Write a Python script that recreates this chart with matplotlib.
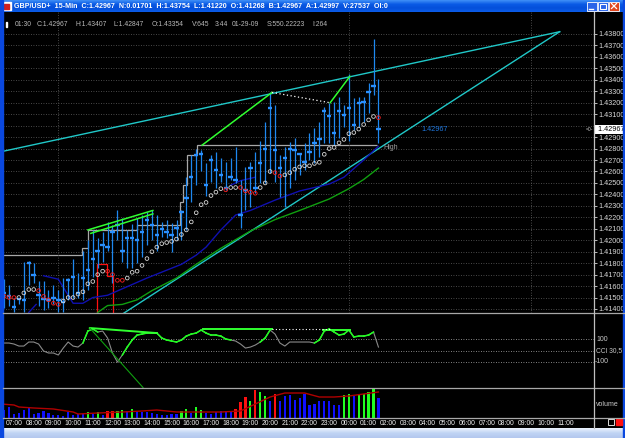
import numpy as np
import matplotlib.pyplot as plt
from matplotlib.lines import Line2D
from matplotlib.patches import Rectangle
from matplotlib.colors import LinearSegmentedColormap

plt.rcParams['font.family'] = ['Liberation Sans', 'DejaVu Sans']

# ---- GBP/USD 15-min bars, 06:30 .. 01:30 (77 bars) ----
high = [1.4166, 1.4161, 1.4150, 1.4150, 1.4181, 1.4182, 1.4180, 1.4164, 1.4164, 1.4157,
        1.4161, 1.4157, 1.4167, 1.4167, 1.4184, 1.4171, 1.4191, 1.4200, 1.4209, 1.4202,
        1.4207, 1.4216, 1.4213, 1.4226, 1.4219, 1.4209, 1.4214, 1.4219, 1.4222, 1.4225,
        1.4226, 1.4222, 1.4216, 1.4218, 1.4215, 1.4218, 1.4226, 1.4255, 1.4274, 1.4280,
        1.4279, 1.4267, 1.4274, 1.4277, 1.4272, 1.4268, 1.4272, 1.4281, 1.4253, 1.4264,
        1.4268, 1.4277, 1.4287, 1.4303, 1.4329, 1.4318, 1.4274, 1.4281, 1.4286, 1.4289,
        1.4276, 1.4285, 1.4294, 1.4298, 1.4303, 1.4316, 1.4320, 1.4321, 1.4325, 1.4318,
        1.4345, 1.4324, 1.4325, 1.4325, 1.4337, 1.43754, 1.43407]
low = [1.4141, 1.4143, 1.4137, 1.4144, 1.4137, 1.4161, 1.4163, 1.4143, 1.4139, 1.4141,
       1.4144, 1.4137, 1.4137, 1.4148, 1.4150, 1.4150, 1.4148, 1.4157, 1.4168, 1.4176,
       1.4181, 1.4191, 1.4163, 1.4200, 1.4181, 1.4176, 1.4176, 1.4180, 1.4185, 1.4196,
       1.4200, 1.4191, 1.4203, 1.4202, 1.4190, 1.4200, 1.4200, 1.4209, 1.4233, 1.4248,
       1.4260, 1.4239, 1.4251, 1.4246, 1.4251, 1.4244, 1.4253, 1.4250, 1.4211, 1.4226,
       1.4229, 1.4241, 1.4250, 1.4250, 1.4259, 1.4251, 1.4238, 1.4229, 1.4246, 1.4253,
       1.4257, 1.4261, 1.4270, 1.4267, 1.4273, 1.4285, 1.4285, 1.4283, 1.4289, 1.4299,
       1.4287, 1.4296, 1.4299, 1.4303, 1.4311, 1.4327, 1.42847]
close = [1.4154, 1.4151, 1.4142, 1.4149, 1.4148, 1.4180, 1.4170, 1.4152, 1.4149, 1.4148,
         1.4150, 1.4148, 1.4146, 1.4165, 1.4168, 1.4154, 1.4167, 1.4174, 1.4184, 1.4191,
         1.4196, 1.4194, 1.4207, 1.4213, 1.4191, 1.4202, 1.4202, 1.4200, 1.4207, 1.4218,
         1.4213, 1.4205, 1.4210, 1.4207, 1.4205, 1.4211, 1.4225, 1.4237, 1.4255, 1.4274,
         1.4275, 1.4248, 1.4270, 1.4261, 1.4257, 1.4246, 1.4255, 1.4253, 1.4222, 1.4244,
         1.4263, 1.4246, 1.4267, 1.4280, 1.4315, 1.4279, 1.4263, 1.4272, 1.4280, 1.4279,
         1.4275, 1.4268, 1.4277, 1.4285, 1.4288, 1.4313, 1.4308, 1.4294, 1.4313, 1.4309,
         1.4315, 1.4301, 1.4320, 1.4321, 1.4329, 1.4335, 1.42967]

# trailing stop dots (W = white, R = red)
stop = [1.4151, 1.4150, 1.4150, 1.4150, 1.4154, 1.4157, 1.4157, 1.4156, 1.4151, 1.4148,
        1.4145, 1.4144, 1.4147, 1.4150, 1.4150, 1.4153, 1.4155, 1.4162, 1.4164, 1.4170,
        1.4173, 1.4173, 1.4170, 1.4165, 1.4165, 1.4167, 1.4172, 1.4173, 1.4178, 1.4184,
        1.4190, 1.4194, 1.4197, 1.4198, 1.4199, 1.4201, 1.4205, 1.4209, 1.4216, 1.4224,
        1.4231, 1.4233, 1.4239, 1.4242, 1.4245, 1.4244, 1.4246, 1.4246, 1.4246, 1.4243,
        1.4242, 1.4241, 1.4246, 1.4250, 1.4260, 1.4259, 1.4256, 1.4257, 1.4259, 1.4262,
        1.4264, 1.4265, 1.4265, 1.4267, 1.4268, 1.4275, 1.4280, 1.4281, 1.4285, 1.4288,
        1.4293, 1.4294, 1.4297, 1.4301, 1.4305, 1.4308, 1.4307]
stop_side = ("RRR" "WWWW" "RRRRR" "WWWWWWWWW" "RRRR" "WWWWWWWWWWWWWWWWWWWW" "R" "WW"
             "RRRR" "WWW" "RR" "WWWWWWWWWWWWWWWWWWW" "R")

# moving averages (bar index, price)
ma_blue_i = [5, 6.5, 7.5, 8, 11, 14, 16, 18, 21, 29, 36, 39, 41, 44, 47, 50, 55, 60, 66, 69, 73, 76]
ma_blue_p = [1.4137, 1.4144, np.nan, 1.4169, 1.4166, 1.4145, 1.4145, 1.4150, 1.4152, 1.4167,
             1.4179, 1.4187, 1.4194, 1.4209, 1.4222, 1.4226, 1.4235, 1.4243, 1.4249, 1.4255,
             1.4270, 1.4282]
ma_blue2_i = [46, 48, 51]
ma_blue2_p = [1.4248, 1.4252, 1.4255]
ma_green_i = [19, 21, 24, 27, 30, 35, 39, 44, 50, 55, 60, 66, 70, 73, 76]
ma_green_p = [1.4137, 1.4143, 1.4144, 1.4148, 1.4156, 1.4167, 1.4179, 1.4193, 1.4208, 1.4218,
              1.4226, 1.4236, 1.4245, 1.4253, 1.4263]

# highest-high step line and red step
hh_edges = [-1, 15.8, 17.0, 27.0, 35.7, 36.3, 37.1, 39.2, 75.7]
hh_levels = [1.4187, 1.4193, 1.4209, 1.4213, 1.4233, 1.4248, 1.4274, 1.4283]
red_edges = [18.9, 20.9, 22.1]
red_levels = [1.4179, 1.4169]

# drawn trend lines
cyan_up = ([-2, 112.8], [1.4276, 1.4382])
cyan_lo = ([22, 112.8], [1.4130, 1.4382])
green_tl = [([17.0, 30.2], [1.4209, 1.4226]), ([17.6, 30.2], [1.4206, 1.4223]),
            ([40.2, 54.4], [1.4283, 1.4329]), ([66.2, 70.2], [1.4320, 1.4343])]
dotted_tl = ([54.4, 66.2], [1.4329, 1.4320])

# CCI
cci = [67, 67, 58, 40, 40, 76, 76, 58, -4, -22,
       -22, -40, 22, 76, 40, 31, 67, 174, 192, 165,
       174, 112, -22, -103, -40, 31, 94, 138, 147, 156,
       156, 156, 112, 94, 85, 76, 94, 129, 147, 156,
       183, 156, 138, 138, 129, 103, 94, 85, 58, 22,
       31, 49, 76, 112, 183, 147, 67, 40, 76, 76,
       76, 76, 76, 67, 94, 174, 192, 165, 138, 147,
       183, 121, 129, 129, 138, 165, 31]
cci_hi = "0" * 16 + "111" + "0" * 5 + "1" * 22 + "0" * 6 + "11" + "0" * 9 + "1" * 12 + "0"
cci_green_tl = [([17.4, 31.0], [201, 156]), ([40.4, 54.4], [192, 192]), ([64.7, 70.2], [183, 183])]
cci_dark_tl = ([17.4, 28.2], [201, -330])
cci_dot_tl = ([54.4, 66.2], [192, 192])

# volume
vol = [267, 341, 128, 160, 267, 341, 128, 160, 213, 160,
       107, 85, 75, 181, 107, 128, 128, 203, 128, 181,
       107, 235, 235, 235, 267, 213, 288, 213, 192, 181,
       160, 128, 107, 107, 128, 128, 235, 288, 160, 352,
       245, 160, 128, 192, 213, 213, 235, 288, 523, 672,
       533, 907, 843, 715, 555, 768, 555, 693, 747, 587,
       640, 768, 427, 448, 555, 555, 533, 427, 427, 747,
       768, 693, 747, 768, 821, 960, 645]
vol_col = ("b" * 17 + "g" + "b" + "g" + "b" + "rr" + "gg" + "b" + "g" + "b" * 9 + "gg" + "b"
           + "gg" + "b" * 6 + "rrr" + "g" + "r" + "gg" + "b" + "r" + "b" * 13 + "gg" + "b"
           + "gggg" + "b")
vma_i = [0, 2, 3, 6, 10, 14, 15, 19, 24, 28, 31, 35, 44, 48, 51, 54, 57, 61, 64, 67, 70, 73, 76]
vma = [440, 416, 352, 320, 288, 192, 128, 160, 192, 224, 256, 192, 192, 224, 448, 672, 800,
       800, 672, 672, 704, 768, 832]

hours = ['07:00', '08:00', '09:00', '10:00', '11:00', '12:00', '13:00', '14:00', '15:00',
         '16:00', '17:00', '18:00', '19:00', '20:00', '21:00', '22:00', '23:00', '00:00',
         '01:00', '02:00', '03:00', '04:00', '05:00', '06:00', '07:00', '08:00', '09:00',
         '10:00', '11:00']
vgrid_hours = [2.25, 17, 26.25]   # 09:15, 00:00, 09:15 after 07:00

W, H = 625, 438


def box(x0, y0, x1, y1):
    return [x0 / W, 1 - y1 / H, (x1 - x0) / W, (y1 - y0) / H]


def fline(x0, y0, x1, y1, c, lw=1.0):
    fig.add_artist(Line2D([x0 / W, x1 / W], [1 - y0 / H, 1 - y1 / H],
                          transform=fig.transFigure, color=c, lw=lw))


fig = plt.figure(figsize=(W / 100, H / 100), dpi=100, facecolor='black')

n = len(close)
idx = np.arange(n)
xlim = (-0.23, 119.77)
hour_pos = [2 + 4 * k for k in range(len(hours))]
dot = (0, (1, 2))

# ---------------- price panel ----------------
ax = fig.add_axes(box(3, 12, 594, 313))
ax.set_facecolor('black')
ax.set_xlim(*xlim)
ax.set_ylim(1.41365, 1.43992)
for s in ax.spines.values():
    s.set_visible(False)
ax.set_xticks([])
ax.yaxis.tick_right()
yt = np.arange(1.414, 1.43801, 0.001)
ax.set_yticks(yt)
# the 1.43000 label sits under the last-price box
ax.set_yticklabels(['' if abs(v - 1.430) < 1e-6 else '%.5f' % v for v in yt])
ax.tick_params(axis='y', colors='#d8d8d8', labelsize=5.2, length=2.5, width=0.6, pad=1)
ax.grid(axis='y', color='#606060', linestyle=dot, lw=0.6)
for h in vgrid_hours:
    ax.axvline(2 + 4 * h, color='#606060', linestyle=dot, lw=0.6)

ax.plot(*cyan_up, color='#20c8c8', lw=1.0)
ax.plot(*cyan_lo, color='#20c8c8', lw=1.0)
ax.plot(ma_green_i, ma_green_p, color='#10a010', lw=1.0)
ax.plot(ma_blue_i, ma_blue_p, color='#1010b0', lw=1.0)
ax.plot(ma_blue2_i, ma_blue2_p, color='#1010b0', lw=1.0)
ax.stairs(hh_levels, hh_edges, baseline=None, color='#a8a8a8', lw=0.9)
ax.stairs(red_levels, red_edges, baseline=1.41, color='#ff1010', lw=0.9)

ax.vlines(idx, low, high, color='#1e88f0', lw=0.9)
ax.hlines(close, idx - 0.45, idx + 0.45, color='#2a90ff', lw=1.7)

cols = ['#ff2020' if s == 'R' else '#d8d8d8' for s in stop_side]
ax.scatter(idx, stop, s=7, facecolors='none', edgecolors=cols, linewidths=0.6, zorder=4)

for xs, ys in green_tl:
    ax.plot(xs, ys, color='#30ff30', lw=1.1)
ax.plot(*dotted_tl, color='white', lw=0.9, linestyle=dot)

ax.text(77.0, 1.4281, 'High', color='#a0a0a0', fontsize=5, va='center')
ax.text(87.5, close[-1], '%.5f' % close[-1], color='#1e78e0', fontsize=5.2,
        va='center', ha='center')
ax.text(1.003, close[-1], ' %.5f ' % close[-1], transform=ax.get_yaxis_transform(),
        color='black', fontsize=5.2, va='center', ha='left',
        bbox=dict(facecolor='white', edgecolor='none', pad=0.6), clip_on=False, zorder=6)
ax.text(0.999, close[-1], '=0-', transform=ax.get_yaxis_transform(), color='#d0d0d0',
        fontsize=3.6, va='center', ha='right')

info = [(15, '01:30'), (37, 'C:1.42967'), (76, 'H:1.43407'), (114, 'L:1.42847'),
        (152, 'O:1.43354'), (192, 'V:645'), (215, '3:44'), (232, '01-29-09'),
        (267, 'S:550.22223'), (312, 'I:264')]
for xp, t in info:
    fig.text(xp / W, 1 - 24 / H, t, color='#b8b8b8', fontsize=4.9, va='center', ha='left')
fig.add_artist(Rectangle((6 / W, 1 - 27 / H), 1.5 / W, 5 / H, transform=fig.transFigure,
                         color='white'))

# ---------------- CCI panel ----------------
ax2 = fig.add_axes(box(3, 313, 594, 387.5))
ax2.set_facecolor('black')
ax2.set_xlim(*xlim)
ax2.set_ylim(-330, 335)
ax2.axis('off')
for lv in (100, 0, -100):
    ax2.axhline(lv, color='#b0b0b0', linestyle=dot, lw=0.6)
ax2.plot(idx, cci, color='#8a8a8a', lw=0.8)
for i, f in enumerate(cci_hi):
    if f == '1':
        ax2.plot([i, i + 1], [cci[i], cci[i + 1]], color='#20ff20', lw=1.1)
for xs, ys in cci_green_tl:
    ax2.plot(xs, ys, color='#30ff30', lw=1.4)
ax2.plot(*cci_dark_tl, color='#10a010', lw=0.8)
ax2.plot(*cci_dot_tl, color='white', lw=0.8, linestyle=dot)
tr2 = ax2.get_yaxis_transform()
ax2.text(1.004, 100, '100', transform=tr2, color='#c8c8c8', fontsize=5, va='center', clip_on=False)
ax2.text(1.004, 0, 'CCI 30,5', transform=tr2, color='#c8c8c8', fontsize=4.8, va='center', clip_on=False)
ax2.text(1.002, -100, '-100', transform=tr2, color='#c8c8c8', fontsize=5, va='center', clip_on=False)

# ---------------- volume panel ----------------
ax3 = fig.add_axes(box(3, 387.5, 594, 418))
ax3.set_facecolor('black')
ax3.set_xlim(*xlim)
ax3.set_ylim(0, 976)
for s in ax3.spines.values():
    s.set_visible(False)
vcolors = {'b': '#1010ff', 'r': '#ff1010', 'g': '#20ff20'}
ax3.bar(idx, vol, width=0.45, color=[vcolors[c] for c in vol_col])
ax3.plot(vma_i, vma, color='#b00000', lw=1.0)
ax3.set_yticks([])
ax3.set_xticks(hour_pos)
ax3.set_xticklabels(hours)
ax3.tick_params(axis='x', colors='#f0f0f0', labelsize=4.9, length=0, pad=1.5)
ax3.text(1.004, 0.45, 'volume', transform=ax3.transAxes, color='#c8c8c8', fontsize=5,
         va='center', clip_on=False)

# ---------------- separators and frame ----------------
for yy in (313, 387.5, 418):
    fline(3, yy, 625, yy, '#a8a8a8', 0.9)
fline(594, 12, 594, 428, '#c0c0c0', 0.9)
fig.add_artist(Rectangle((0, 0), 2.5 / W, 1, transform=fig.transFigure, color='#0a48e0'))
fig.add_artist(Rectangle((1 - 2 / W, 0), 2 / W, 1, transform=fig.transFigure, color='#0a48e0'))
fig.add_artist(Rectangle((608 / W, 1 - 425 / H), 6 / W, 6 / H, transform=fig.transFigure,
                         fill=False, ec='white', lw=0.6))
fig.add_artist(Rectangle((616 / W, 1 - 425 / H), 6 / W, 6 / H, transform=fig.transFigure,
                         color='#ff1010'))

# title bar
tb = fig.add_axes(box(0, 0, 625, 12))
tb.axis('off')
cm_t = LinearSegmentedColormap.from_list('t', ['#3a8af5', '#0a5ae6', '#0550da', '#0a5ae6'])
tb.imshow(np.linspace(0, 1, 12).reshape(-1, 1), aspect='auto', cmap=cm_t,
          extent=[0, 625, 12, 0])
tb.set_xlim(0, 625)
tb.set_ylim(12, 0)
tb.add_patch(Rectangle((2.5, 2), 8, 8, color='white'))
tb.add_patch(Rectangle((4, 3.5), 5, 5, color='#d02020'))
tb.text(14, 6.2, 'GBP/USD+  15-Min  C:1.42967  N:0.01701  H:1.43754  L:1.41220  '
        'O:1.41268  B:1.42967  A:1.42997  V:27537  OI:0', color='white', fontsize=5.1,
        fontweight='bold', va='center')
for bx, bc in ((587, '#2a64e8'), (598, '#2a64e8'), (609, '#e0461e')):
    tb.add_patch(Rectangle((bx, 1.5), 9.5, 9, facecolor=bc, edgecolor='white', lw=0.6))
tb.plot([589, 593], [8.5, 8.5], color='white', lw=1)
tb.add_patch(Rectangle((600, 3.5), 5.5, 5, fill=False, ec='white', lw=0.8))
tb.plot([611.5, 616.5], [3.5, 8.5], color='white', lw=0.9)
tb.plot([611.5, 616.5], [8.5, 3.5], color='white', lw=0.9)

# status bar
sb = fig.add_axes(box(0, 428, 625, 438))
sb.axis('off')
cm_s = LinearSegmentedColormap.from_list('s', ['#e8f0fc', '#c0d4f4', '#b4c8ee'])
sb.imshow(np.linspace(0, 1, 10).reshape(-1, 1), aspect='auto', cmap=cm_s,
          extent=[0, 625, 10, 0])

fig.savefig('out.png', dpi=100, facecolor='black')
